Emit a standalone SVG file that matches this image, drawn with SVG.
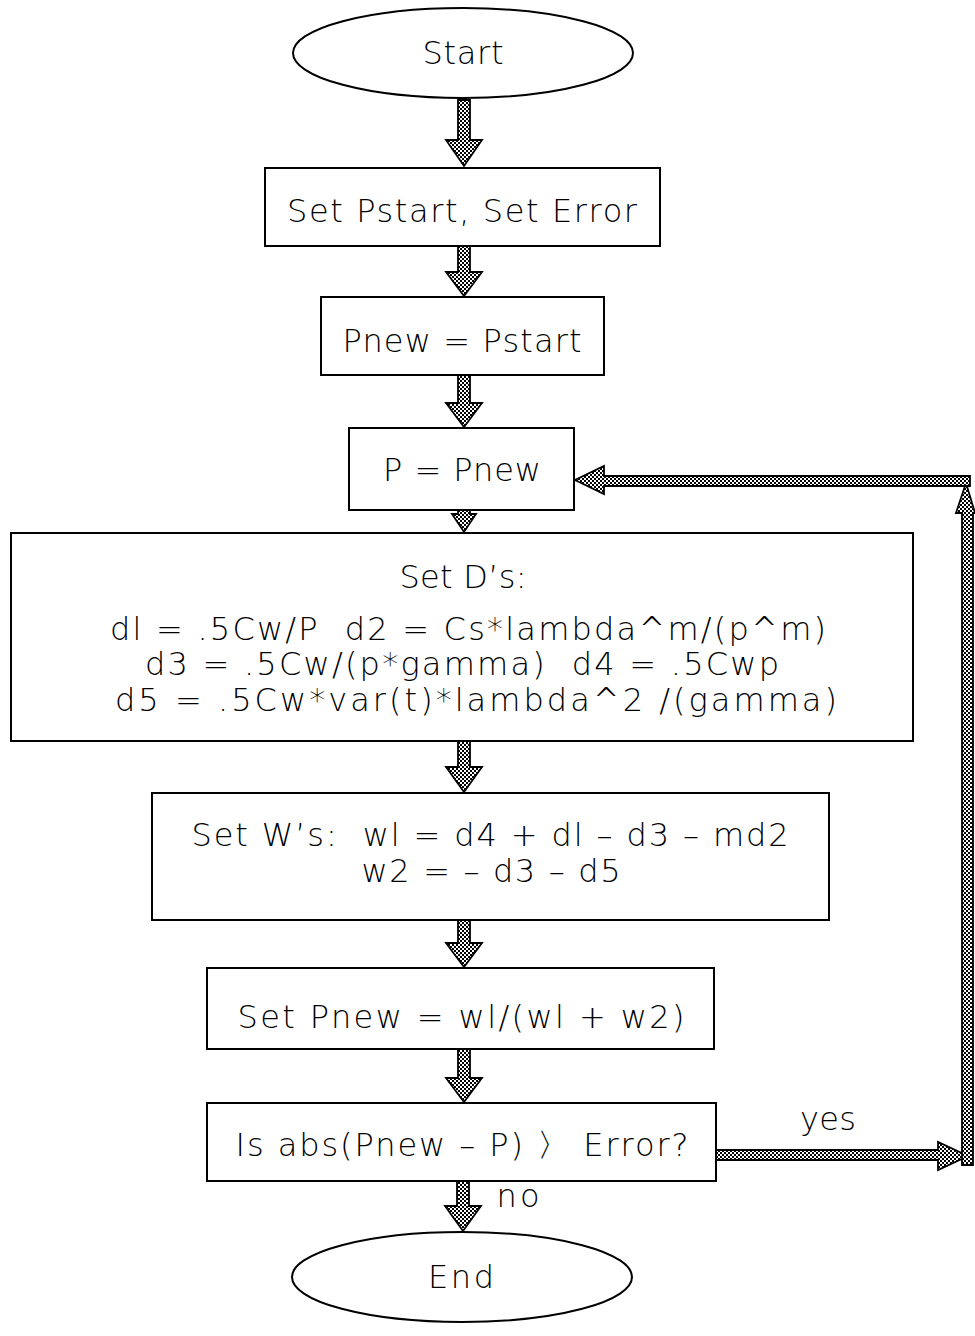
<svg xmlns="http://www.w3.org/2000/svg" width="975" height="1336" viewBox="0 0 975 1336">
<defs>
<pattern id="chk" width="4" height="4" patternUnits="userSpaceOnUse">
<rect width="4" height="4" fill="#fff"/>
<rect width="2" height="2" fill="#000"/>
<rect x="2" y="2" width="2" height="2" fill="#000"/>
</pattern>
<style>
.n{fill:#fff;stroke:#000;stroke-width:2}
.t{font-family:"DejaVu Sans","Liberation Sans",sans-serif;font-weight:200;font-size:32px;fill:#000;text-anchor:middle}
.a{fill:url(#chk);stroke:#000;stroke-width:1.8;stroke-linejoin:miter}
</style>
</defs>
<rect width="975" height="1336" fill="#fff"/>
<g id="connectors">
<path class="a" d="M458,100 H470 V140 H482 L464,166 L446,140 H458 Z"/>
<path class="a" d="M458,246 H470 V272 H482 L464,296 L446,272 H458 Z"/>
<path class="a" d="M458,375 H470 V403 H482 L464,427 L446,403 H458 Z"/>
<path class="a" d="M458,510 H470 V514 H476 L464,532 L452,514 H458 Z"/>
<path class="a" d="M458,741 H470 V767 H482 L464,792 L446,767 H458 Z"/>
<path class="a" d="M458,920 H470 V943 H482 L464,967 L446,943 H458 Z"/>
<path class="a" d="M458,1049 H470 V1078 H482 L464,1102 L446,1078 H458 Z"/>
<path class="a" d="M457,1181 H469 V1206 H481 L463,1231 L445,1206 H457 Z"/>
<path class="a" d="M716,1150 H938 V1142 L968,1156 L938,1170 V1160 H716 Z"/>
<path class="a" d="M962,1165 V513 H956 L966,483 L975,513 H973 V1165 Z"/>
<path class="a" d="M970,476 V486 H604 V494 L575,480 L604,466 V476 Z"/>
</g>
<g id="start"><ellipse class="n" cx="463" cy="53" rx="170" ry="45"/><text class="t" x="463" y="64" textLength="81">Start</text></g>
<g id="set-pstart"><rect class="n" x="265" y="168" width="395" height="78"/><text class="t" x="462" y="222" textLength="350">Set Pstart, Set Error</text></g>
<g id="pnew-pstart"><rect class="n" x="321" y="297" width="283" height="78"/><text class="t" x="462" y="352" textLength="239">Pnew = Pstart</text></g>
<g id="p-pnew"><rect class="n" x="349" y="428" width="225" height="82"/><text class="t" x="462" y="481" textLength="158">P = Pnew</text></g>
<g id="set-ds"><rect class="n" x="11" y="533" width="902" height="208"/>
<text class="t" x="463" y="588" textLength="127">Set D’s:</text>
<text class="t" x="468" y="640" textLength="716" xml:space="preserve">dl = .5Cw/P  d2 = Cs*lambda^m/(p^m)</text>
<text class="t" x="462" y="675" textLength="634" xml:space="preserve">d3 = .5Cw/(p*gamma)  d4 = .5Cwp</text>
<text class="t" x="476" y="711" textLength="722">d5 = .5Cw*var(t)*lambda^2 /(gamma)</text></g>
<g id="set-ws"><rect class="n" x="152" y="793" width="677" height="127"/>
<text class="t" x="490" y="846" textLength="597" xml:space="preserve">Set W’s:  wl = d4 + dl – d3 – md2</text>
<text class="t" x="491" y="882" textLength="259">w2 = – d3 – d5</text></g>
<g id="set-pnew"><rect class="n" x="207" y="968" width="507" height="81"/><text class="t" x="461" y="1028" textLength="447">Set Pnew = wl/(wl + w2)</text></g>
<g id="decision"><rect class="n" x="207" y="1103" width="509" height="78"/><text class="t" x="462" y="1156" textLength="453">Is abs(Pnew – P) 〉 Error?</text></g>
<g id="end"><ellipse class="n" cx="462" cy="1277" rx="170" ry="45"/><text class="t" x="461" y="1288" textLength="66">End</text></g>
<g id="labels"><text class="t" x="828" y="1130" textLength="56">yes</text><text class="t" x="518" y="1207" textLength="43">no</text></g>
</svg>
